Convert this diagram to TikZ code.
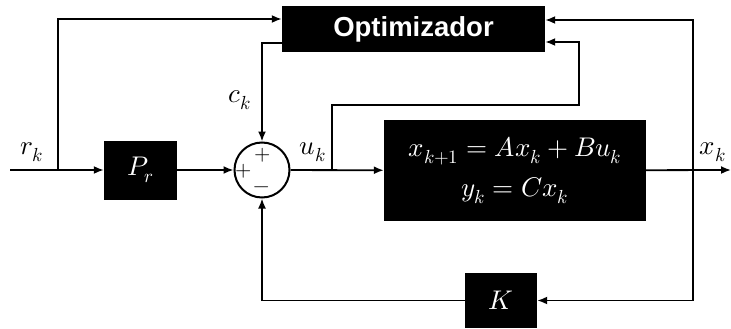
\documentclass[tikz,border=0pt]{standalone}
\usepackage{fontspec}
\usepackage{unicode-math}
\setmathfont{Latin Modern Math}
\newfontfamily\optfont{Liberation Sans}
\usetikzlibrary{arrows.meta, positioning, calc}
\tikzset{
  blkB/.style={rectangle, fill=black, text=white, inner sep=0pt},
  sumc/.style={circle, draw, line width=2pt, minimum size=55pt, inner sep=0pt},
  arrT/.style={-{Latex[length=10pt,width=8pt]}, line width=1.8pt},
  lbl/.style={font=\fontsize{27}{32}\selectfont},
  sgn/.style={font=\fontsize{21}{22}\selectfont, inner sep=0pt},
}
\begin{document}
\begin{tikzpicture}[x=1pt, y=-1pt]
  \useasboundingbox (0,0) rectangle (731,329);

  % ---- Blocks ----
  \node[blkB, minimum width=263pt, minimum height=46pt,
        font=\optfont\bfseries\fontsize{27.5}{30}\selectfont] (opt) at (413.5,29) {Optimizador};
  \node[blkB, minimum width=73pt, minimum height=59pt, lbl] (Pr) at (140.5,170) {$P_r$};
  \node[sumc] (sum) at (262,170) {};
  \node[blkB, minimum width=262pt, minimum height=101pt, align=center,
        font=\fontsize{27}{40}\selectfont] (sys) at (515,170.5)
       {$x_{k+1} = Ax_k + Bu_k$\\$y_k = Cx_k$};
  \node[blkB, minimum width=72pt, minimum height=55pt, lbl] (K) at (501,300.5) {$K$};

  % ---- Signs and labels ----
  \node[sgn] (sp1) at (263,155) {$+$};
  \node[sgn] (sp2) at (244,171) {$+$};
  \node[sgn] (sm)  at (262,190) {$-$};
  \node[lbl] (rk) at (32,152) {$r_k$};
  \node[lbl] (ck) at (240,100) {$c_k$};
  \node[lbl] (uk) at (313,152) {$u_k$};
  \node[lbl] (xk) at (713,152) {$x_k$};

  % ---- Branch points ----
  \coordinate (in)  at (10,170);
  \coordinate (br1) at (58,170);
  \coordinate (br2) at (332,170);
  \coordinate (c1)  at (579,105);
  \coordinate (br3) at (693,170);
  \coordinate (out) at (731,170);

  % ---- Arrows ----
  \draw[arrT] (in) -- (Pr.west);
  \draw[arrT] (br1) |- ([yshift=10pt]opt.west);
  \draw[arrT] ([yshift=-14pt]opt.west) -| (sum.north);
  \draw[arrT] (Pr) -- (sum);
  \draw[arrT] (sum) -- (sys);
  \draw[arrT] (br2) |- (c1) |- ([yshift=-13pt]opt.east);
  \draw[arrT] (br3) |- ([yshift=9pt]opt.east);
  \draw[arrT] (sys) -- (out);
  \draw[arrT] (br3) |- (K.east);
  \draw[arrT] (K.west) -| (sum.south);
\end{tikzpicture}
\end{document}
